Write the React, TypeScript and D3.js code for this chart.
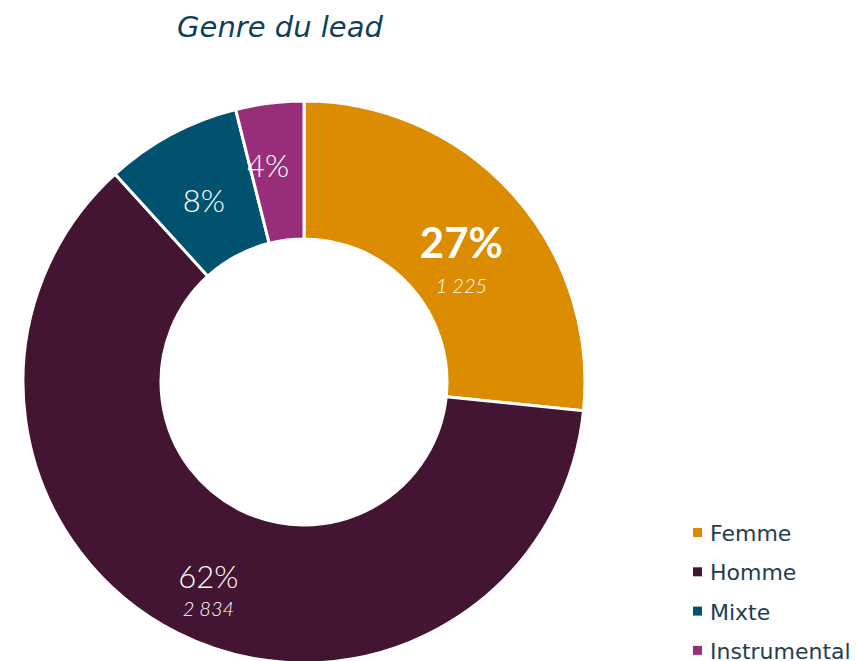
import React from "react";
import * as d3 from "d3";

const categories = ["Femme", "Homme", "Mixte", "Instrumental"];
const values = [1225, 2834, 360, 180];
const colors = ["#DB8C00", "#441433", "#01526F", "#982E79"];
const title = "Genre du lead";

const W = 856;
const H = 661;
const cx = 304;
const cy = 382;
const rOuter = 281;
const rInner = 143;
const FONT = "Lato, 'Open Sans', sans-serif";
const GFONT = "'DejaVu Sans', sans-serif";

// small per-label nudges relative to arc centroid
const labelNudge: [number, number][] = [
  [0, 20],
  [0, 20],
  [0, 7],
  [-10, -5],
];

export default function App() {
  const total = d3.sum(values);
  const pie = d3.pie<number>().sort(null).value((d) => d);
  const arcs = pie(values);
  const arc = d3.arc<d3.PieArcDatum<number>>().innerRadius(rInner).outerRadius(rOuter);
  const labelArc = d3.arc<d3.PieArcDatum<number>>().innerRadius(212).outerRadius(212);
  const fmt = (v: number) => d3.format(",")(v).replace(/,/g, " ");

  return (
    <svg width={W} height={H} style={{ position: "absolute", left: 0, top: 0, background: "#fff" }}>
      <text x={280} y={37} textAnchor="middle" fontFamily={GFONT} fontStyle="italic" fontSize={29} fill="#0E4159">
        {title}
      </text>
      <g transform={`translate(${cx},${cy})`}>
        {arcs.map((a, i) => (
          <path key={i} d={arc(a) || ""} fill={colors[i]} stroke="#fff" strokeWidth={3} />
        ))}
        {arcs.map((a, i) => {
          const [x0, y0] = labelArc.centroid(a);
          const x = x0 + labelNudge[i][0];
          const y = y0 + labelNudge[i][1];
          const pct = Math.round((values[i] / total) * 100) + "%";
          if (i === 0) {
            return (
              <g key={i}>
                <text x={x} y={y - 2} textAnchor="middle" fontFamily={FONT} fontWeight={700} fontSize={42} fill="#fff">{pct}</text>
                <text x={x} y={y + 33} textAnchor="middle" fontFamily={FONT} fontStyle="italic" fontWeight={300} fontSize={20} fill="#fff">{fmt(values[i])}</text>
              </g>
            );
          }
          if (i === 1) {
            return (
              <g key={i}>
                <text x={x} y={y - 3} textAnchor="middle" fontFamily={FONT} fontWeight={300} fontSize={31} fill="#fff">{pct}</text>
                <text x={x} y={y + 25} textAnchor="middle" fontFamily={FONT} fontStyle="italic" fontWeight={300} fontSize={20} fill="#fff">{fmt(values[i])}</text>
              </g>
            );
          }
          return (
            <text key={i} x={x} y={y + 10} textAnchor="middle" fontFamily={FONT} fontWeight={300} fontSize={31} fill="#fff">{pct}</text>
          );
        })}
      </g>
      <g>
        {categories.map((c, i) => (
          <g key={c} transform={`translate(693,${533 + i * 39.3})`}>
            <rect x={0} y={-5} width={9} height={9} fill={colors[i]} />
            <text x={17} y={8} fontFamily={GFONT} fontSize={22} fill="#1F3E50">{c}</text>
          </g>
        ))}
      </g>
    </svg>
  );
}
